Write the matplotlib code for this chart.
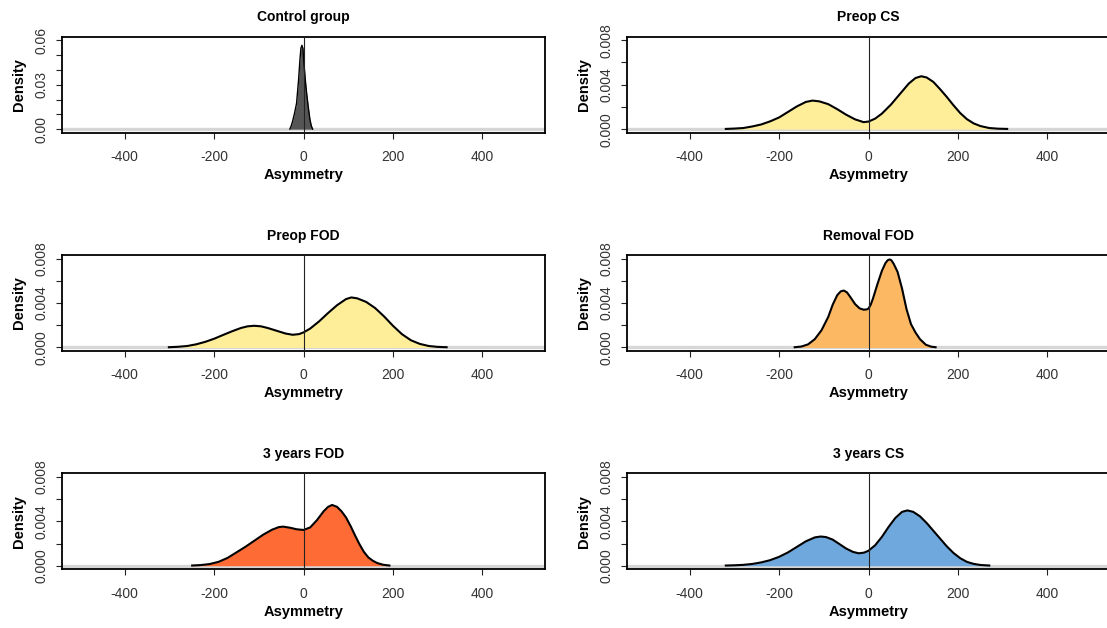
import matplotlib
matplotlib.use("Agg")
import matplotlib.pyplot as plt
import numpy as np

plt.rcParams['font.family'] = ['Liberation Sans', 'DejaVu Sans']

# ---------------- data ----------------
titles = ["Control group", "Preop CS", "Preop FOD", "Removal FOD", "3 years FOD", "3 years CS"]
fill_colors = ["#555555", "#FFEE99", "#FFEE99", "#FDB863", "#FF6B35", "#6FA8DC"]

control_x = [-30.5, -27.5, -24.5, -20, -15.5, -11, -8, -5.8, -3.5, -1.3, 1, 4, 7, 10.7, 14.5, 17.5, 20.5]
control_y = [0.0, 0.0022, 0.0052, 0.0108, 0.0175, 0.0333, 0.0467, 0.0546, 0.0566, 0.0546,
             0.0445, 0.0333, 0.0243, 0.0148, 0.0063, 0.0022, 0.0]

preop_cs_x = [-319, -300, -280, -260, -240, -220, -200, -180, -160, -140, -125, -110, -90, -70, -50, -30,
              -11, 0, 15, 30, 50, 70, 90, 105, 118, 130, 145, 160, 175, 190, 205, 220, 235, 250, 270, 290, 310]
preop_cs_y = [0.02, 0.05, 0.10, 0.24, 0.42, 0.70, 1.05, 1.55, 2.05, 2.45, 2.57, 2.50, 2.25, 1.80, 1.30, 0.88,
              0.63, 0.68, 0.95, 1.40, 2.20, 3.15, 4.10, 4.60, 4.76, 4.65, 4.25, 3.60, 2.90, 2.15, 1.45, 0.90,
              0.52, 0.28, 0.10, 0.04, 0.02]

preop_fod_x = [-301, -280, -260, -240, -220, -200, -180, -160, -140, -125, -110, -95, -80, -60, -40, -24,
               -10, 0, 15, 35, 55, 75, 95, 107, 120, 140, 160, 180, 200, 220, 240, 260, 280, 300, 320]
preop_fod_y = [0.02, 0.06, 0.13, 0.28, 0.50, 0.78, 1.12, 1.45, 1.75, 1.90, 1.95, 1.90, 1.75, 1.50, 1.25, 1.14,
               1.20, 1.35, 1.70, 2.35, 3.10, 3.80, 4.35, 4.50, 4.42, 4.10, 3.55, 2.80, 1.95, 1.20, 0.65, 0.32,
               0.13, 0.05, 0.02]

removal_fod_x = [-165, -150, -135, -120, -105, -90, -80, -70, -62, -55, -48, -40, -30, -20, -11, -4, 0, 5, 10,
                 20, 30, 38, 43, 47, 51, 56, 65, 75, 85, 95, 105, 115, 128, 140, 150]
removal_fod_y = [0.02, 0.08, 0.28, 0.75, 1.55, 2.75, 3.85, 4.70, 5.05, 5.12, 4.95, 4.50, 3.90, 3.52, 3.40, 3.42,
                 3.50, 3.85, 4.40, 5.70, 6.90, 7.60, 7.85, 7.92, 7.85, 7.55, 6.80, 5.30, 3.45, 2.10, 1.35, 0.75,
                 0.25, 0.07, 0.02]

y3_fod_x = [-249, -230, -210, -190, -170, -150, -130, -110, -90, -70, -55, -45, -30, -15, 0, 15, 30, 45, 55, 64,
            75, 85, 95, 105, 115, 125, 135, 145, 155, 165, 178, 192]
y3_fod_y = [0.02, 0.06, 0.15, 0.35, 0.70, 1.20, 1.70, 2.25, 2.80, 3.25, 3.48, 3.52, 3.42, 3.28, 3.22, 3.45, 4.10,
            4.90, 5.30, 5.47, 5.30, 4.90, 4.35, 3.60, 2.75, 1.95, 1.25, 0.75, 0.45, 0.24, 0.09, 0.02]

y3_cs_x = [-319, -300, -280, -260, -240, -220, -200, -180, -160, -140, -120, -107, -95, -80, -65, -50, -35, -22,
           -10, 0, 15, 30, 45, 60, 75, 87, 100, 115, 130, 145, 160, 175, 190, 205, 220, 235, 250, 270]
y3_cs_y = [0.02, 0.04, 0.08, 0.16, 0.30, 0.50, 0.80, 1.20, 1.70, 2.20, 2.55, 2.63, 2.58, 2.35, 1.95, 1.55, 1.25,
           1.12, 1.18, 1.35, 1.85, 2.60, 3.50, 4.30, 4.85, 4.98, 4.85, 4.45, 3.85, 3.15, 2.45, 1.75, 1.15, 0.68,
           0.35, 0.17, 0.07, 0.02]

x_ticks = [-400, -200, 0, 200, 400]
control_yticks = [0, 0.01, 0.02, 0.03, 0.04, 0.05, 0.06]
control_ylabels = ["0.00", "", "", "0.03", "", "", "0.06"]
other_yticks = [0, 0.002, 0.004, 0.006, 0.008]
other_ylabels = ["0.000", "", "0.004", "", "0.008"]

series = [
    (control_x, control_y, 1.0),
    (preop_cs_x, preop_cs_y, 1e-3),
    (preop_fod_x, preop_fod_y, 1e-3),
    (removal_fod_x, removal_fod_y, 1e-3),
    (y3_fod_x, y3_fod_y, 1e-3),
    (y3_cs_x, y3_cs_y, 1e-3),
]

# ---------------- layout ----------------
W, H = 1107, 628
fig = plt.figure(figsize=(W / 100, H / 100), dpi=100)
fig.patch.set_facecolor("white")

col_left_px = [62, 627]
ax_w_px = 483
row_top_px = [36.7, 255.0, 473.3]
ax_h_px = 96.0

for i, (title, fc, (xs, ys, scale)) in enumerate(zip(titles, fill_colors, series)):
    r, c = divmod(i, 2)
    left = col_left_px[c] / W
    bottom = 1 - (row_top_px[r] + ax_h_px) / H
    ax = fig.add_axes([left, bottom, ax_w_px / W, ax_h_px / H])
    xs = np.asarray(xs, dtype=float)
    ys = np.asarray(ys, dtype=float) * scale

    ymax = 0.06 if i == 0 else 0.008
    ax.set_xlim(-540, 540)
    ax.set_ylim(-0.04 * ymax, 1.04 * ymax)

    ax.axhline(0, color="#d6d6d6", lw=2.4, zorder=1)
    ax.fill_between(xs, 0, ys, color=fc, lw=0, zorder=2)
    ax.plot(xs, ys, color="black", lw=(1.0 if i == 0 else 1.5), zorder=3, solid_joinstyle="round")
    ax.axvline(0, color="#222222", lw=0.8, zorder=4)

    ax.set_xticks(x_ticks)
    ax.set_xticklabels([str(t) for t in x_ticks])
    if i == 0:
        ax.set_yticks(control_yticks)
        ax.set_yticklabels(control_ylabels)
    else:
        ax.set_yticks(other_yticks)
        ax.set_yticklabels(other_ylabels)

    ax.tick_params(axis="both", direction="out", length=4.5, width=0.8, colors="#222222",
                   labelsize=10, labelcolor="#333333")
    ax.tick_params(axis="x", pad=8)
    ax.tick_params(axis="y", pad=5, labelrotation=90)
    for lbl in ax.get_yticklabels():
        lbl.set_va("center")

    for sp in ax.spines.values():
        sp.set_linewidth(1.3)
        sp.set_color("black")

    ax.set_title(title, fontsize=10, fontweight="bold", pad=11)
    ax.set_xlabel("Asymmetry", fontsize=10.5, fontweight="bold", va="center")
    ax.xaxis.set_label_coords(0.5, -0.44)
    ax.set_ylabel("Density", fontsize=10.5, fontweight="bold", va="center")
    ax.yaxis.set_label_coords(-0.088, 0.5)

fig.savefig("out.png", dpi=100, facecolor="white")
